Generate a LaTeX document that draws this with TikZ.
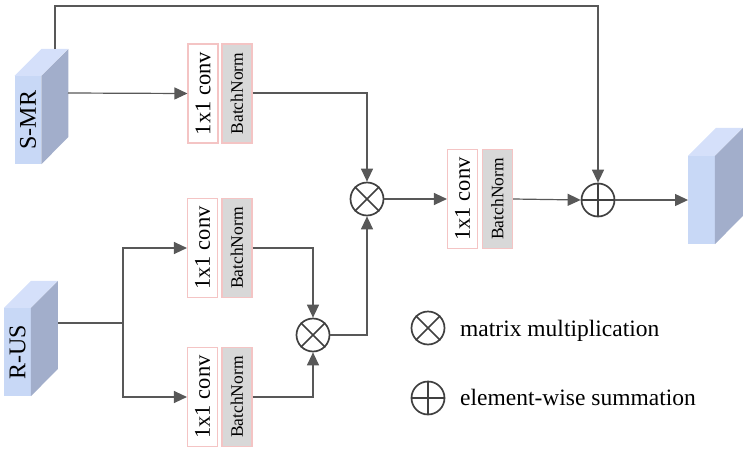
\documentclass[tikz,border=0pt]{standalone}
\usepackage{fontspec}
\setmainfont{Liberation Serif}
\usetikzlibrary{arrows.meta}
\definecolor{frontc}{HTML}{C8D8F6}
\definecolor{sidec}{HTML}{A2AECB}
\definecolor{topc}{HTML}{D5E0FA}
\definecolor{linec}{HTML}{585858}
\definecolor{circc}{HTML}{404040}
\definecolor{pinkc}{HTML}{F4C4C4}
\definecolor{bnfill}{HTML}{D8D8D8}
\tikzset{
  front/.style={fill=frontc, draw=none, inner sep=0pt, minimum width=26.5pt, minimum height=88pt, text=black},
  convbox/.style={draw=pinkc, line width=1.1pt, fill=white, minimum width=30pt, minimum height=99pt, inner sep=0pt},
  bnbox/.style={draw=pinkc, line width=1.1pt, fill=bnfill, minimum width=30pt, minimum height=99pt, inner sep=0pt},
  conn/.style={draw=linec, line width=1.2pt, -{Triangle[length=13pt,width=12pt]}},
  plain/.style={draw=linec, line width=1.2pt},
  opcirc/.style={circle, draw=circc, line width=1.7pt, minimum size=33pt, inner sep=0pt},
  convtxt/.style={font=\fontsize{22.5}{24}\selectfont},
  bntxt/.style={font=\fontsize{17.5}{19}\selectfont},
  legtxt/.style={font=\fontsize{23.5}{26}\selectfont, anchor=base west, inner sep=0pt},
}
\newcommand{\otimesmark}[1]{%
  \draw[circc, line width=1.7pt] (#1.north west) -- (#1.south east) (#1.north east) -- (#1.south west);}
\newcommand{\oplusmark}[1]{%
  \draw[circc, line width=1.7pt] (#1.north) -- (#1.south) (#1.east) -- (#1.west);}
\begin{document}
\begin{tikzpicture}[x=1pt, y=-1pt]
\useasboundingbox (0,0) rectangle (748,453);

% ---------- 3D blocks ----------
% S-MR
\node[front] (smr) at (28,120) {};
\fill[topc] (smr.north west) -- ++(27,-27) -- ++(26.5,0) -- (smr.north east) -- cycle;
\fill[sidec] (smr.north east) -- ++(27,-27) -- ++(0,88) -- (smr.south east) -- cycle;
\node[rotate=90, font=\fontsize{24}{26}\selectfont] at (smr.center) {S-MR};
\coordinate (smrout) at (68,93);
\coordinate (smrtop) at (55,49);

% R-US
\node[front] (rus) at (17.5,352) {};
\fill[topc] (rus.north west) -- ++(27,-27) -- ++(26.5,0) -- (rus.north east) -- cycle;
\fill[sidec] (rus.north east) -- ++(27,-27) -- ++(0,88) -- (rus.south east) -- cycle;
\node[rotate=90, font=\fontsize{24}{26}\selectfont] at (rus.center) {R-US};
\coordinate (rusout) at (58,323);
\coordinate (split) at (123,323);

% output
\node[front] (out) at (701.5,200) {};
\fill[topc] (out.north west) -- ++(28,-28) -- ++(26.5,0) -- (out.north east) -- cycle;
\fill[sidec] (out.north east) -- ++(28,-28) -- ++(0,88) -- (out.south east) -- cycle;

% ---------- conv / BN boxes ----------
\node[convbox] (c1) at (203,93.5) {};
\node[convtxt, rotate=90] at (c1.center) {1x1 conv};
\node[bnbox] (b1) at (237,93.5) {};
\node[bntxt, rotate=90] at (b1.center) {BatchNorm};

\node[convbox] (c3) at (202.5,248) {};
\node[convtxt, rotate=90] at (c3.center) {1x1 conv};
\node[bnbox] (b3) at (237,248) {};
\node[bntxt, rotate=90] at (b3.center) {BatchNorm};

\node[convbox] (c4) at (202.5,397) {};
\node[convtxt, rotate=90] at (c4.center) {1x1 conv};
\node[bnbox] (b4) at (237,397) {};
\node[bntxt, rotate=90] at (b4.center) {BatchNorm};

\node[convbox] (c2) at (462.5,199) {};
\node[convtxt, rotate=90] at (c2.center) {1x1 conv};
\node[bnbox] (b2) at (497.5,199) {};
\node[bntxt, rotate=90] at (b2.center) {BatchNorm};

% ---------- operators ----------
\node[opcirc] (ot1) at (367,199) {};
\otimesmark{ot1}
\node[opcirc] (ot2) at (313,335) {};
\otimesmark{ot2}
\node[opcirc] (op) at (598,200) {};
\oplusmark{op}

% ---------- connectors ----------
\draw[conn] (smrout) -- (c1.west);
\draw[conn] (smrtop) -- (smrtop |- 0,6) -| (op.north);
\draw[conn] (b1.east |- smrout) -| (ot1.north);
\draw[conn] (ot1.east) -- (c2.west);
\draw[conn] (b2.east) -- (op.west);
\draw[conn] (op.east) -- (out.west |- op.east);
\draw[plain] (rusout) -- (split);
\draw[conn] (split) |- (c3.west);
\draw[conn] (split) |- (c4.west);
\draw[conn] (b3.east) -| (ot2.north);
\draw[conn] (b4.east) -| (ot2.south);
\draw[conn] (ot2.east) -| (ot1.south);

% ---------- legend ----------
\node[opcirc] (lot) at (428,328) {};
\otimesmark{lot}
\node[opcirc] (lop) at (428,398) {};
\oplusmark{lop}
\node[legtxt] (lt1) at (460,336) {matrix multiplication};
\node[legtxt] (lt2) at (460,405) {element-wise summation};
\end{tikzpicture}
\end{document}
